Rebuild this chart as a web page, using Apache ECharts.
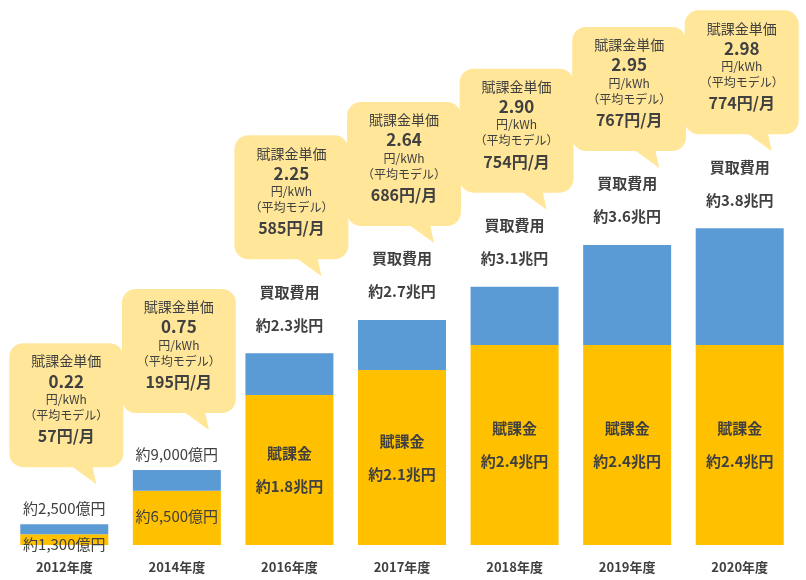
<!DOCTYPE html>
<html>
<head>
<meta charset="utf-8">
<script src="https://cdn.jsdelivr.net/npm/echarts@6/dist/echarts.min.js"></script>
<style>html,body{margin:0;padding:0;background:#fff}#chart{width:806px;height:580px}</style>
</head>
<body>
<div id="chart"></div>
<script>
// 年度
var years = ['2012年度', '2014年度', '2016年度', '2017年度', '2018年度', '2019年度', '2020年度'];
// 賦課金（兆円）
var levy = [0.13, 0.65, 1.8, 2.1, 2.4, 2.4, 2.4];
// 買取費用 合計（兆円）
var total = [0.25, 0.9, 2.3, 2.7, 3.1, 3.6, 3.8];
var levyText = ['約1,300億円', '約6,500億円', '約1.8兆円', '約2.1兆円', '約2.4兆円', '約2.4兆円', '約2.4兆円'];
var totalText = ['約2,500億円', '約9,000億円', '約2.3兆円', '約2.7兆円', '約3.1兆円', '約3.6兆円', '約3.8兆円'];
// 賦課金単価
var unitPrice = ['0.22', '0.75', '2.25', '2.64', '2.90', '2.95', '2.98'];
var monthly = ['57円/月', '195円/月', '585円/月', '686円/月', '754円/月', '767円/月', '774円/月'];

var FONT = '"Noto Sans CJK JP", sans-serif';
var TXT = '#404040';

var myChart = echarts.init(document.getElementById('chart'));

var levyData = levy.map(function (v, i) {
    var lab;
    if (i === 0) {
        lab = {show: true, position: 'bottom', distance: -8, formatter: levyText[i], fontSize: 15, color: TXT, fontFamily: FONT};
    } else if (i === 1) {
        lab = {show: true, position: 'insideTop', distance: 18, formatter: levyText[i], fontSize: 15, color: TXT, fontFamily: FONT};
    } else {
        lab = {show: true, position: 'inside', formatter: '賦課金\n' + levyText[i], fontSize: 15, fontWeight: 'bold',
            lineHeight: 33, color: TXT, fontFamily: FONT};
    }
    return {value: v, label: lab};
});

var restData = total.map(function (v, i) {
    var lab = i < 2
        ? {show: true, position: 'top', distance: 8, formatter: totalText[i], fontSize: 15, color: TXT, fontFamily: FONT}
        : {show: true, position: 'top', distance: 12, formatter: '買取費用\n' + totalText[i], fontSize: 15, fontWeight: 'bold',
            lineHeight: 33, color: TXT, fontFamily: FONT};
    return {value: +(v - levy[i]).toFixed(2), label: lab};
});

var option = {
    animation: false,
    grid: {left: 8, right: 10, top: 0, bottom: 35},
    xAxis: {
        type: 'category',
        data: years,
        axisLine: {show: false},
        axisTick: {show: false},
        axisLabel: {fontSize: 13, fontWeight: 'bold', color: TXT, fontFamily: FONT, margin: 16}
    },
    yAxis: {type: 'value', min: 0, max: 6.54, show: false},
    series: [
        {name: '賦課金', type: 'bar', stack: 'sum', barWidth: 88, itemStyle: {color: '#FFC000'}, data: levyData},
        {name: '買取費用', type: 'bar', stack: 'sum', barWidth: 88, itemStyle: {color: '#5B9BD5'}, data: restData}
    ]
};
myChart.setOption(option);

// 吹き出し
var graphics = [];
years.forEach(function (y, i) {
    var p = myChart.convertToPixel({seriesIndex: 0}, [i, total[i]]);
    var cx = p[0] + 2;
    var bottom = p[1] - (i < 2 ? 57 : 94);
    var w = 114, h = 124, top = bottom - h;
    graphics.push({
        type: 'rect', shape: {x: cx - w / 2, y: top, width: w, height: h, r: 14},
        style: {fill: '#FFE699'}
    });
    graphics.push({
        type: 'polygon', shape: {points: [[cx + 4, bottom - 2], [cx + 26, bottom - 2], [cx + 30, bottom + 17]]},
        style: {fill: '#FFE699'}
    });
    graphics.push({
        type: 'text', x: cx, y: top + 8,
        style: {
            text: '{a|賦課金単価}\n{b|' + unitPrice[i] + '}\n{c|円/kWh}\n{c|（平均モデル）}\n{d|' + monthly[i] + '}',
            align: 'center', verticalAlign: 'top', fill: TXT, fontFamily: FONT,
            rich: {
                a: {fontSize: 14, lineHeight: 20, fill: TXT, fontFamily: FONT},
                b: {fontSize: 17, fontWeight: 'bold', lineHeight: 20, fill: TXT, fontFamily: FONT},
                c: {fontSize: 12, lineHeight: 16, fill: TXT, fontFamily: FONT},
                d: {fontSize: 16, fontWeight: 'bold', lineHeight: 26, fill: TXT, fontFamily: FONT}
            }
        }
    });
});
myChart.setOption({graphic: graphics});
</script>
</body>
</html>
